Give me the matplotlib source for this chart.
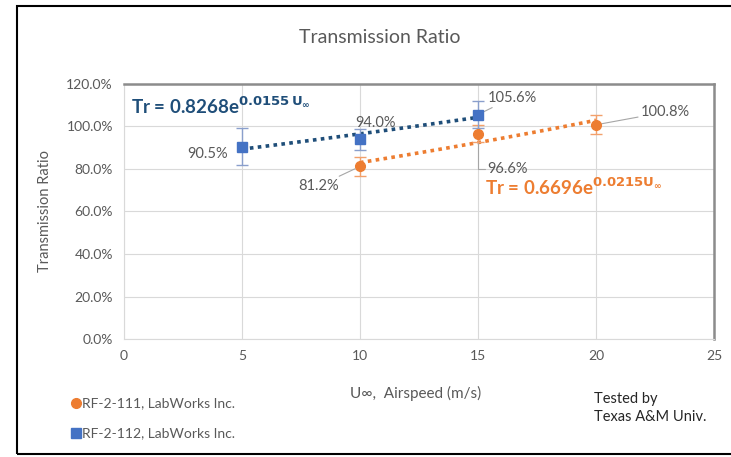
import matplotlib.pyplot as plt
import numpy as np
from matplotlib.lines import Line2D
from matplotlib.patches import Rectangle
from matplotlib.ticker import PercentFormatter

# RF-2-111 (orange)
speed_111 = [10, 15, 20]
ratio_111 = [81.2, 96.6, 100.8]
err_111 = [4.5, 4.0, 4.5]

# RF-2-112 (blue)
speed_112 = [5, 10, 15]
ratio_112 = [90.5, 94.0, 105.6]
err_112 = [8.6, 5.0, 6.5]

# exponential trendline coefficients printed on the chart
fit_111 = (0.6696, 0.0215)
fit_112 = (0.8268, 0.0155)

ORANGE = "#ED7D31"
BLUE = "#4472C4"
DARK_BLUE = "#1F4E79"
GRAY = "#595959"

plt.rcParams["font.family"] = ["Lato", "DejaVu Sans"]

fig = plt.figure(figsize=(7.31, 4.57), dpi=100)
fig.patches.append(Rectangle((0.023, 0.007), 1.0, 0.98, transform=fig.transFigure,
                             fill=False, edgecolor="black", linewidth=1.5))

ax = fig.add_axes([0.1696, 0.2582, 0.8071, 0.558])

# trendlines
for (a, b), xs, col in [(fit_112, speed_112, DARK_BLUE), (fit_111, speed_111, ORANGE)]:
    xt = np.linspace(min(xs), max(xs), 50)
    ax.plot(xt, 100 * a * np.exp(b * xt), linestyle=(0, (1, 1.2)), color=col,
            linewidth=2.6, zorder=3)

ax.errorbar(speed_111, ratio_111, yerr=err_111, fmt="o", color=ORANGE, ecolor="#F2A06B",
            markersize=7, capsize=4, elinewidth=1, capthick=1, zorder=4)
ax.errorbar(speed_112, ratio_112, yerr=err_112, fmt="s", color=BLUE, ecolor="#8A9FCC",
            markersize=7, capsize=4, elinewidth=1, capthick=1, zorder=4)

ax.set_xlim(0, 25)
ax.set_ylim(0, 120)
ax.set_xticks(range(0, 26, 5))
ax.set_yticks(range(0, 121, 20))
ax.yaxis.set_major_formatter(PercentFormatter(decimals=1))
ax.grid(True, color="#D9D9D9", linewidth=0.8)
ax.set_axisbelow(True)
ax.tick_params(length=0, colors=GRAY, labelsize=10, pad=8)
for side in ["left", "bottom"]:
    ax.spines[side].set_color("#D9D9D9")
for side in ["top", "right"]:
    ax.spines[side].set_color("#8C8C8C")
    ax.spines[side].set_linewidth(1.8)

# data labels with leader lines
lead = dict(arrowstyle="-", color="#A6A6A6", linewidth=0.8, shrinkA=0, shrinkB=4)
lab = dict(fontsize=10.5, color=GRAY, va="center")
ax.annotate(f"{ratio_112[0]:.1f}%", (speed_112[0], ratio_112[0]), xytext=(4.4, 87.0),
            ha="right", **lab)
ax.annotate(f"{ratio_112[1]:.1f}%", (speed_112[1], ratio_112[1]), xytext=(10.65, 101.8),
            ha="center", **lab)
ax.annotate(f"{ratio_112[2]:.1f}%", (speed_112[2], ratio_112[2]), xytext=(15.4, 113.5),
            ha="left", arrowprops=lead, **lab)
ax.annotate(f"{ratio_111[0]:.1f}%", (speed_111[0], ratio_111[0]), xytext=(9.1, 72.0),
            ha="right", arrowprops=lead, **lab)
ax.annotate(f"{ratio_111[1]:.1f}%", (speed_111[1], ratio_111[1]), xytext=(15.4, 80.0),
            ha="left", arrowprops=dict(lead, connectionstyle="angle,angleA=0,angleB=90"),
            **lab)
ax.annotate(f"{ratio_111[2]:.1f}%", (speed_111[2], ratio_111[2]), xytext=(21.9, 106.8),
            ha="left", arrowprops=lead, **lab)

# trendline equations
ax.text(0.3, 109.5, r"Tr = 0.8268e$^{\mathbf{0.0155\,U_\infty}}$", color=DARK_BLUE,
        fontsize=13.5, fontweight="bold", va="center")
ax.text(15.3, 71.5, r"Tr = 0.6696e$^{\mathbf{0.0215U_\infty}}$", color=ORANGE,
        fontsize=13.5, fontweight="bold", va="center")

fig.text(0.52, 0.917, "Transmission Ratio", ha="center", va="center",
         fontsize=14, color=GRAY)
ax.set_ylabel("Transmission Ratio", fontsize=10.5, color=GRAY, labelpad=10)
fig.text(0.568, 0.14, "U∞,  Airspeed (m/s)", ha="center", va="center",
         fontsize=11, color=GRAY)

# legend-like entries
fig.add_artist(Line2D([0.104], [0.118], marker="o", color=ORANGE, markersize=7,
                      linestyle="none", transform=fig.transFigure))
fig.text(0.112, 0.118, "RF-2-111, LabWorks Inc.", color=GRAY, fontsize=10, va="center")
fig.add_artist(Line2D([0.104], [0.052], marker="s", color=BLUE, markersize=7,
                      linestyle="none", transform=fig.transFigure))
fig.text(0.112, 0.052, "RF-2-112, LabWorks Inc.", color=GRAY, fontsize=10, va="center")

fig.text(0.813, 0.107, "Tested by\nTexas A&M Univ.", color="#262626", fontsize=10.5,
         va="center", linespacing=1.3)

fig.savefig("out.png", dpi=100)
